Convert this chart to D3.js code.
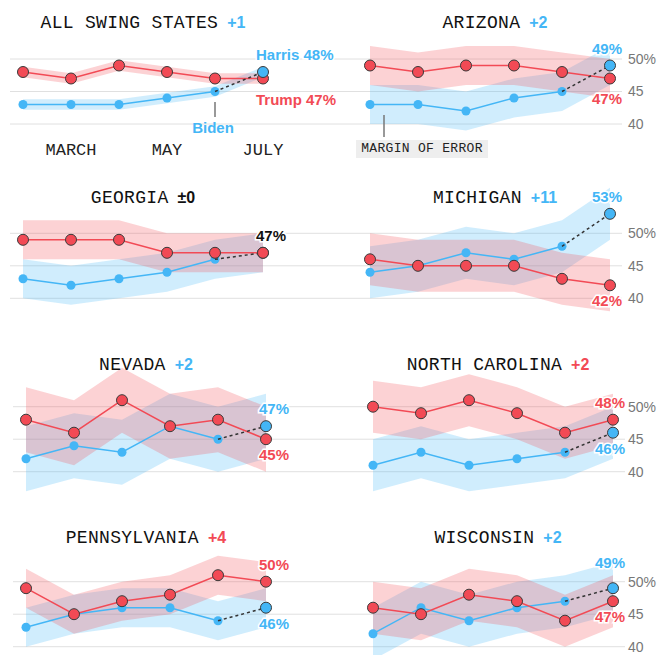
<!DOCTYPE html>
<html>
<head>
<meta charset="utf-8">
<script src="https://cdn.jsdelivr.net/npm/d3@7"></script>
<style>
  body{margin:0;background:#fff;}
  svg{display:block;}
</style>
</head>
<body>
<div id="chart"></div>
<script>
// poll averages, Feb..Jul; last Biden point is June, then Harris in July
const states=["ALL SWING STATES","ARIZONA","GEORGIA","MICHIGAN","NEVADA","NORTH CAROLINA","PENNSYLVANIA","WISCONSIN"];
const months=["FEB","MARCH","APRIL","MAY","JUNE","JULY"];
const monthTicks=["MARCH","MAY","JULY"];
const trump=[
  [48,47,49,48,47,47],
  [49,48,49,49,48,47],
  [49,49,49,47,47,47],
  [46,45,45,45,43,42],
  [48,46,51,47,48,45],
  [50,49,51,49,46,48],
  [49,45,47,48,51,50],
  [46,45,48,47,44,47]
];
const biden=[
  [43,43,43,44,45],
  [43,43,42,44,45],
  [43,42,43,44,46],
  [44,45,47,46,48],
  [42,44,43,47,45],
  [41,43,41,42,43],
  [43,45,46,46,44],
  [42,46,44,46,47]
];
const harris=[48,49,47,53,47,46,46,49];
const marginOfError=[0.8,3,3,4,5,4,3,4];
const yTicks=[40,45,50];

const RED="#f24a55", BLUE="#44b6f6", DOT_STROKE="#3a3a3a";

const width=659, height=655;
const colX=[23,370];
const colTitleX=[143,495];
const rowY=[59,233.3,406.7,581.7];
const rowShift=[0,0,3,3];
const titleDy=[-31,-30.6,-36.7,-38.7];
const plotW=240, plotH=65;
// hand nudges for end labels (upper / lower offset from the dot)
const labelNudge={0:{lower:26},1:{lower:25},7:{upper:-20}};

const svg=d3.select("#chart").append("svg")
  .attr("width",width)
  .attr("height",height)
  .style("background","#fff");

function drawPanel(i){
  const col=i%2, row=Math.floor(i/2), shift=rowShift[row];
  const x=d3.scalePoint().domain(months).range([colX[col]+shift, colX[col]+shift+plotW]);
  const y=d3.scaleLinear().domain([40,50]).range([rowY[row]+plotH, rowY[row]]);
  const g=svg.append("g");
  const moe=marginOfError[i];

  const tr=trump[i].map((v,k)=>({m:months[k],v:v}));
  const bl=biden[i].map((v,k)=>({m:months[k],v:v}));
  const blue=bl.concat([{m:months[5],v:harris[i]}]);
  const hx=x(months[5]), hy=y(harris[i]), ty=y(trump[i][5]);

  // gridlines
  const gx0= col===0 ? x.range()[0]-13 : colX[1]+shift-25;
  const gx1= col===0 ? colX[1]+shift-25 : x.range()[1]+12;
  g.selectAll(".grid").data(yTicks).join("line")
    .attr("x1",gx0).attr("x2",gx1)
    .attr("y1",d=>y(d)).attr("y2",d=>y(d))
    .attr("stroke","#e0e0e0").attr("stroke-width",1);

  if(col===1){
    g.selectAll(".tick").data(yTicks).join("text")
      .attr("x",colX[1]+plotW+18)
      .attr("y",d=>y(d))
      .attr("dy","0.35em")
      .attr("font-family","Liberation Sans, Arial, sans-serif")
      .attr("font-size",14)
      .attr("fill","#777")
      .text(d=>d===50 ? d+"%" : d);
  }

  // margin of error bands
  const band=d3.area()
    .x(d=>x(d.m))
    .y0(d=>y(d.v-moe))
    .y1(d=>y(d.v+moe));
  g.append("path").datum(blue).attr("d",band)
    .attr("fill",BLUE).attr("fill-opacity",0.25);
  g.append("path").datum(tr).attr("d",band)
    .attr("fill",RED).attr("fill-opacity",0.25);

  const line=d3.line().x(d=>x(d.m)).y(d=>y(d.v));

  g.append("path").datum(bl).attr("d",line)
    .attr("fill","none").attr("stroke",BLUE).attr("stroke-width",1.5);
  g.selectAll(".bdot").data(bl).join("circle")
    .attr("cx",d=>x(d.m)).attr("cy",d=>y(d.v)).attr("r",4.5)
    .attr("fill",BLUE);

  g.append("path").datum(tr).attr("d",line)
    .attr("fill","none").attr("stroke",RED).attr("stroke-width",1.5);

  // Biden -> Harris switch
  g.append("line")
    .attr("x1",x(months[4])).attr("y1",y(biden[i][4]))
    .attr("x2",hx).attr("y2",hy)
    .attr("stroke","#333").attr("stroke-width",1.5)
    .attr("stroke-dasharray","3,3");

  const tie=harris[i]===trump[i][5];
  function harrisDot(){
    g.append("circle").attr("cx",hx).attr("cy",hy).attr("r",5.5)
      .attr("fill",BLUE).attr("stroke",DOT_STROKE).attr("stroke-width",1);
  }
  if(tie) harrisDot();
  g.selectAll(".tdot").data(tr).join("circle")
    .attr("cx",d=>x(d.m)).attr("cy",d=>y(d.v)).attr("r",5.5)
    .attr("fill",RED).attr("stroke",DOT_STROKE).attr("stroke-width",1);
  if(!tie) harrisDot();

  // title
  const diff=harris[i]-trump[i][5];
  const title=g.append("text")
    .attr("x",colTitleX[col]+shift)
    .attr("y",rowY[row]+titleDy[row])
    .attr("text-anchor","middle");
  title.append("tspan")
    .attr("font-family","Liberation Mono, DejaVu Sans Mono, monospace")
    .attr("font-size",18)
    .attr("letter-spacing",0.3)
    .attr("fill","#111")
    .text(states[i]);
  title.append("tspan")
    .attr("dx",9)
    .attr("font-family","Liberation Sans, Arial, sans-serif")
    .attr("font-weight","bold")
    .attr("font-size",16)
    .attr("fill",diff>0 ? BLUE : diff<0 ? RED : "#111")
    .text(diff===0 ? "\u00b10" : "+"+Math.abs(diff));

  // end labels
  const nudge=labelNudge[i]||{};
  const lx= col===0 ? hx-7 : hx+12;
  const anchor= col===0 ? "start" : "end";
  function endLabel(txt,color,yy){
    g.append("text")
      .attr("x",lx).attr("y",yy)
      .attr("text-anchor",anchor)
      .attr("font-family","Liberation Sans, Arial, sans-serif")
      .attr("font-weight","bold")
      .attr("font-size",15)
      .attr("fill",color)
      .attr("stroke","#fff").attr("stroke-width",3)
      .attr("paint-order","stroke")
      .text(txt);
  }
  const hName= i===0 ? "Harris " : "", tName= i===0 ? "Trump " : "";
  if(tie){
    endLabel(harris[i]+"%","#111",hy+(nudge.upper||-12));
  } else {
    const harrisUp=harris[i]>trump[i][5];
    const upY=Math.min(hy,ty)+(nudge.upper||-12);
    const loY=Math.max(hy,ty)+(nudge.lower||21);
    endLabel(hName+harris[i]+"%",BLUE,harrisUp?upY:loY);
    endLabel(tName+trump[i][5]+"%",RED,harrisUp?loY:upY);
  }

  return {g:g,x:x,y:y};
}

const panels=states.map((s,i)=>drawPanel(i));

// month axis on the first panel
const p0=panels[0];
p0.g.selectAll(".month").data(monthTicks).join("text")
  .attr("x",d=>p0.x(d))
  .attr("y",p0.y(40)+31)
  .attr("text-anchor","middle")
  .attr("font-family","Liberation Mono, DejaVu Sans Mono, monospace")
  .attr("font-size",17)
  .attr("fill","#222")
  .text(d=>d);

// Biden note
const bx=p0.x(months[4]), by=p0.y(biden[0][4]);
p0.g.append("line")
  .attr("x1",bx).attr("x2",bx)
  .attr("y1",by+10.5).attr("y2",by+25.5)
  .attr("stroke","#777").attr("stroke-width",1.5);
p0.g.append("text")
  .attr("x",bx-2).attr("y",by+41)
  .attr("text-anchor","middle")
  .attr("font-family","Liberation Sans, Arial, sans-serif")
  .attr("font-weight","bold")
  .attr("font-size",15)
  .attr("fill",BLUE)
  .text("Biden");

// margin of error note on Arizona
const p1=panels[1];
const mx=p1.x(months[0])+14, my=p1.y(40);
p1.g.append("line")
  .attr("x1",mx).attr("x2",mx)
  .attr("y1",my-9).attr("y2",my+13)
  .attr("stroke","#777").attr("stroke-width",1.5);
const cx=p1.x(months[0])+52;
p1.g.append("rect")
  .attr("x",cx-66).attr("y",my+16)
  .attr("width",132).attr("height",18)
  .attr("fill","#eeeeee");
p1.g.append("text")
  .attr("x",cx).attr("y",my+28)
  .attr("text-anchor","middle")
  .attr("font-family","Liberation Mono, DejaVu Sans Mono, monospace")
  .attr("font-size",13)
  .attr("letter-spacing",0.3)
  .attr("fill","#222")
  .text("MARGIN OF ERROR");
</script>
</body>
</html>
